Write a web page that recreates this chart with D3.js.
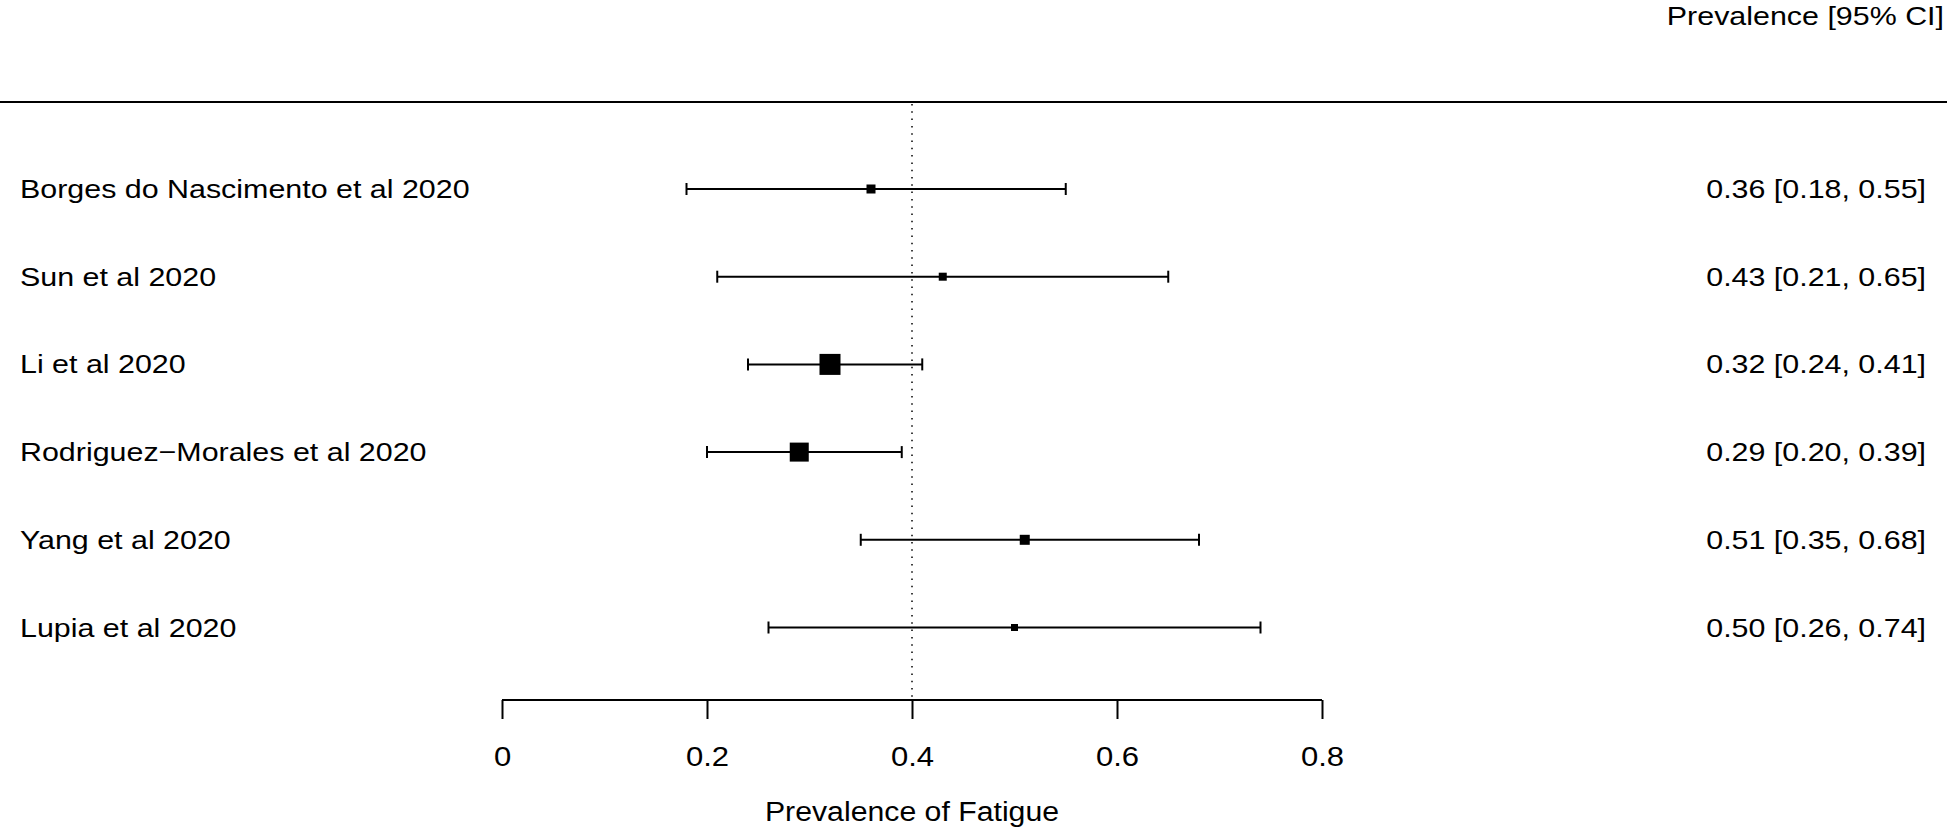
<!DOCTYPE html>
<html>
<head>
<meta charset="utf-8">
<script src="https://cdn.jsdelivr.net/npm/d3@7"></script>
<style>
  body { margin: 0; background: #fff; }
  svg text { font-family: "Liberation Sans", Arial, Helvetica, sans-serif; fill: #000; }
</style>
</head>
<body>
<svg id="chart"></svg>
<script>
var width = 1947,
height = 829,
sx = 1.17;

// study data
var studies = ["Borges do Nascimento et al 2020", "Sun et al 2020", "Li et al 2020",
  "Rodriguez\u2212Morales et al 2020", "Yang et al 2020", "Lupia et al 2020"];
var est = [0.36, 0.43, 0.32, 0.29, 0.51, 0.50];
var lower = [0.18, 0.21, 0.24, 0.20, 0.35, 0.26];
var upper = [0.55, 0.65, 0.41, 0.39, 0.68, 0.74];
var weights = [9, 8, 21, 19, 10, 7];
var tickValues = [0, 0.2, 0.4, 0.6, 0.8];
var refLine = 0.4;

var rows = studies.map(function (s, i) {
  return {name: s, est: est[i], lo: lower[i], hi: upper[i], w: weights[i]};
});

var svg = d3.select("#chart")
.attr("width", width)
.attr("height", height);

var x = d3.scaleLinear()
.domain([0, 0.8])
.range([502, 1322]);

var y = d3.scalePoint()
.domain(studies)
.range([189, 627.5]);

var size = d3.scaleLinear()
.domain([0, 21])
.range([0, 21]);

var fmt = d3.format(".2f");

// text with a slightly wider face, like the original
function wideText(sel, px, py, anchor, fs) {
  return sel.append("text")
  .attr("transform", "translate(" + px + "," + py + ") scale(" + sx + ",1)")
  .attr("text-anchor", anchor)
  .attr("font-size", fs);
}

// header
wideText(svg, 1944, 25, "end", "26px")
.text("Prevalence [95% CI]");

svg.append("line")
.attr("x1", 0).attr("x2", width)
.attr("y1", 102).attr("y2", 102)
.attr("stroke", "#000")
.attr("stroke-width", 2);

// reference line
svg.append("line")
.attr("x1", x(refLine)).attr("x2", x(refLine))
.attr("y1", 104).attr("y2", 700)
.attr("stroke", "#000")
.attr("stroke-width", 1.5)
.attr("stroke-dasharray", "1.5,5.8");

var g = svg.selectAll("g.row")
.data(rows)
.enter().append("g")
.attr("class", "row")
.attr("transform", function (d) { return "translate(0," + y(d.name) + ")"; });

g.each(function (d) {
  var row = d3.select(this);
  wideText(row, 20, 9, "start", "26px").text(d.name);
  wideText(row, 1926, 9, "end", "26px")
  .text(fmt(d.est) + " [" + fmt(d.lo) + ", " + fmt(d.hi) + "]");
});

g.append("line")
.attr("x1", function (d) { return x(d.lo); })
.attr("x2", function (d) { return x(d.hi); })
.attr("stroke", "#000")
.attr("stroke-width", 2);

g.selectAll("line.cap")
.data(function (d) { return [d.lo, d.hi]; })
.enter().append("line")
.attr("class", "cap")
.attr("x1", function (d) { return x(d); })
.attr("x2", function (d) { return x(d); })
.attr("y1", -6).attr("y2", 6)
.attr("stroke", "#000")
.attr("stroke-width", 2);

g.append("rect")
.attr("x", function (d) { return x(d.est) - size(d.w) / 2; })
.attr("y", function (d) { return -size(d.w) / 2; })
.attr("width", function (d) { return size(d.w); })
.attr("height", function (d) { return size(d.w); })
.attr("fill", "#000");

// x axis
var axis = svg.append("g")
.attr("transform", "translate(0,700)")
.call(d3.axisBottom(x).tickValues(tickValues).tickFormat(d3.format("")).tickSize(19).tickPadding(28));

axis.select(".domain")
.attr("d", "M" + x(0) + ",0H" + x(0.8))
.attr("stroke-width", 2);
axis.selectAll(".tick line").attr("stroke-width", 2);
axis.selectAll(".tick text")
.attr("font-size", "27px")
.attr("font-family", "Liberation Sans, Arial, sans-serif")
.attr("transform", "scale(1.15,1)");

svg.append("text")
.attr("transform", "translate(" + x(0.4) + ",821) scale(1.12,1)")
.attr("text-anchor", "middle")
.attr("font-size", "27px")
.text("Prevalence of Fatigue");
</script>
</body>
</html>
